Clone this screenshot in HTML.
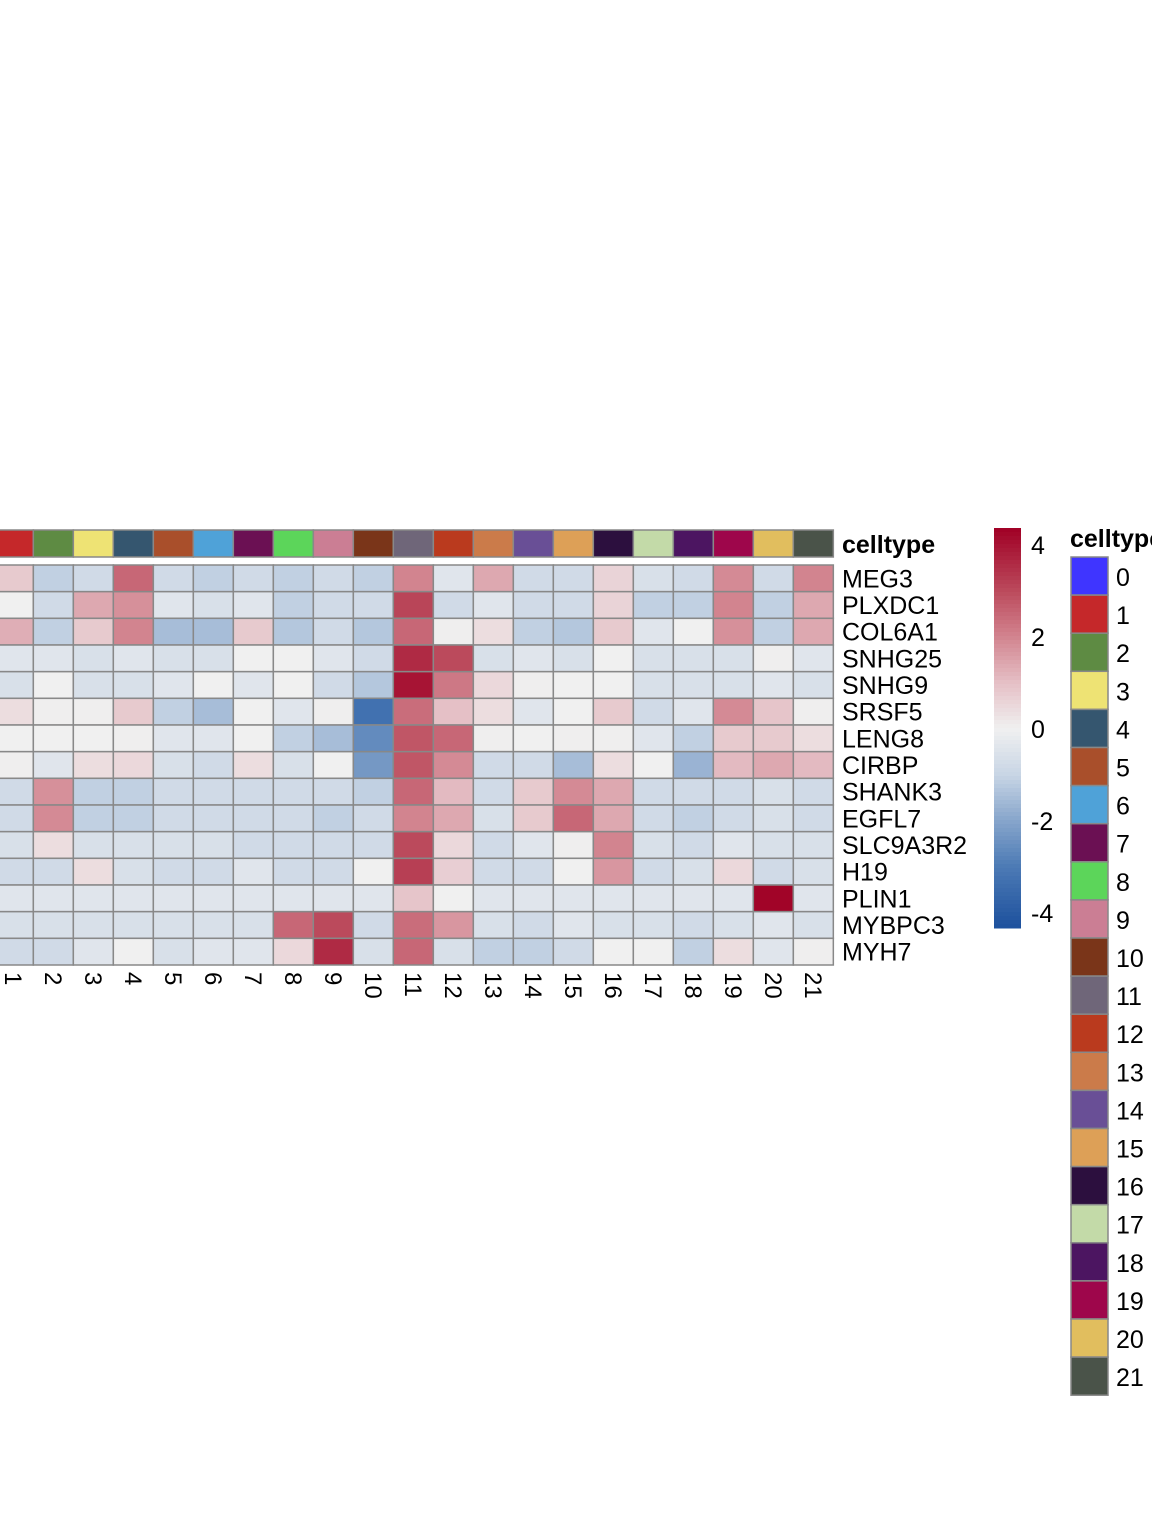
<!DOCTYPE html>
<html><head><meta charset="utf-8"><style>
html,body{margin:0;padding:0;background:#fff;width:1152px;height:1536px;overflow:hidden}
text{font-family:"Liberation Sans",Arial,sans-serif;fill:#000}
</style></head><body>
<svg id="chart" width="1152" height="1536" xmlns="http://www.w3.org/2000/svg"></svg>
<script>
const genes=["MEG3","PLXDC1","COL6A1","SNHG25","SNHG9","SRSF5","LENG8","CIRBP","SHANK3","EGFL7","SLC9A3R2","H19","PLIN1","MYBPC3","MYH7"];
const columns=["0","1","2","3","4","5","6","7","8","9","10","11","12","13","14","15","16","17","18","19","20","21"];
const celltypeColors=["#3F35FF","#C5282A","#5E8B43","#EEE374","#35566F","#A94F2B","#4FA2D8","#6B1053","#5CD55A","#CB7E94","#7A3519","#6F6679","#BA3A1E","#CB7B4A","#694F96","#DDA057","#2C0F3E","#C3DAA8","#4C1561","#9E064B","#E1BE5E","#4A5349"];
const colorTicks=[4,2,0,-2,-4];
const rowMEG3=[0,0.8,-1.1,-0.8,2.5,-0.8,-1.1,-0.8,-1.1,-0.8,-1.1,2.0,-0.4,1.4,-0.8,-0.8,0.6,-0.6,-0.8,1.9,-0.8,2.0];
const rowPLXDC1=[0,0,-0.8,1.4,1.8,-0.4,-0.6,-0.4,-1.1,-0.8,-0.8,3.1,-0.8,-0.4,-0.8,-0.8,0.6,-1.1,-1.1,2.0,-1.1,1.4];
const rowCOL6A1=[0,1.3,-1.1,0.8,2.0,-1.5,-1.5,0.8,-1.3,-0.8,-1.3,2.5,0.05,0.4,-1.1,-1.3,0.8,-0.4,0,1.8,-1.1,1.4];
const rowSNHG25=[0,-0.4,-0.4,-0.6,-0.4,-0.6,-0.6,0,0,-0.4,-0.8,3.6,3.0,-0.6,-0.4,-0.6,0,-0.6,-0.6,-0.6,0.05,-0.4];
const rowSNHG9=[0,-0.6,0,-0.6,-0.6,-0.4,0,-0.4,0,-0.8,-1.3,4.0,2.2,0.5,0.05,0,0,-0.6,-0.6,-0.6,-0.4,-0.6];
const rowSRSF5=[0,0.4,0.05,0.05,0.8,-1.1,-1.5,0,-0.4,0.05,-3.3,2.4,1.0,0.4,-0.4,0,0.8,-0.8,-0.4,1.9,0.9,0.05];
const rowLENG8=[0,0,0,0,0.05,-0.4,-0.4,0,-1.1,-1.5,-2.6,2.8,2.5,0.05,0,0.05,0.05,-0.4,-1.1,0.8,0.8,0.4];
const rowCIRBP=[0,0.05,-0.4,0.4,0.5,-0.6,-0.8,0.4,-0.6,0,-2.3,2.8,1.9,-0.8,-0.8,-1.5,0.4,0,-1.7,1.1,1.4,1.1];
const rowSHANK3=[0,-0.8,1.8,-1.1,-1.1,-0.8,-0.8,-0.8,-0.8,-0.8,-1.1,2.5,1.1,-0.8,0.8,1.9,1.4,-0.8,-0.8,-0.8,-0.6,-0.8];
const rowEGFL7=[0,-0.8,1.9,-1.1,-1.1,-0.8,-0.8,-0.8,-0.8,-1.1,-0.8,2.0,1.4,-0.6,0.8,2.5,1.4,-0.8,-1.1,-0.8,-0.6,-0.8];
const rowSLC9A3R2=[0,-0.6,0.4,-0.6,-0.6,-0.6,-0.6,-0.8,-0.8,-0.8,-0.8,3.0,0.5,-0.8,-0.4,0.05,2.0,-0.6,-0.8,-0.4,-0.6,-0.6];
const rowH19=[0,-0.8,-0.8,0.4,-0.6,-0.8,-0.8,-0.4,-0.8,-0.8,0,3.2,0.7,-0.8,-0.8,0,1.7,-0.8,-0.6,0.5,-0.8,-0.6];
const rowPLIN1=[0,-0.4,-0.4,-0.4,-0.4,-0.4,-0.4,-0.4,-0.4,-0.4,-0.4,0.9,0,-0.4,-0.4,-0.4,-0.4,-0.4,-0.4,-0.4,4.3,-0.4];
const rowMYBPC3=[0,-0.6,-0.6,-0.6,-0.6,-0.6,-0.6,-0.6,2.5,3.0,-0.8,2.4,1.7,-0.6,-0.8,-0.4,-0.6,-0.6,-0.8,-0.6,-0.4,-0.6];
const rowMYH7=[0,-0.8,-0.8,-0.4,0,-0.6,-0.4,-0.4,0.5,3.6,-0.6,2.5,-0.6,-1.1,-1.1,-0.8,0,0,-1.1,0.4,-0.4,0.05];
const values=[rowMEG3,rowPLXDC1,rowCOL6A1,rowSNHG25,rowSNHG9,rowSRSF5,rowLENG8,rowCIRBP,rowSHANK3,rowEGFL7,rowSLC9A3R2,rowH19,rowPLIN1,rowMYBPC3,rowMYH7];

const NS="http://www.w3.org/2000/svg";
const svg=document.getElementById('chart');
function mk(t,a){const e=document.createElementNS(NS,t);for(const k in a)e.setAttribute(k,a[k]);svg.appendChild(e);return e;}
const stops=[[-4.37,[27,79,156]],[-3,[76,122,181]],[-2,[134,165,203]],[-1,[200,213,229]],[0,[240,240,240]],[1,[229,192,198]],[2,[210,132,143]],[3,[187,74,92]],[4.37,[160,0,37]]];
function color(v){v=Math.max(-4.37,Math.min(4.37,v));for(let i=0;i<stops.length-1;i++){const [a,ca]=stops[i],[b,cb]=stops[i+1];if(v<=b){const t=(v-a)/(b-a);return 'rgb('+ca.map((c,j)=>Math.round(c+(cb[j]-c)*t)).join(',')+')';}}return 'rgb(160,0,37)';}
const cellW=40,cellH=400/15,x0=33.33-2*cellW,y0=565;
const xPos=i=>x0+i*cellW, yPos=r=>y0+r*cellH;
columns.forEach((c,i)=>{
  const r=mk('rect',{x:xPos(i),y:530,width:cellW,height:27,fill:celltypeColors[i],stroke:'#888',"stroke-width":1.5});
  
  
});
const at=mk('text',{x:842,y:553,"font-size":25,"font-weight":"bold"});at.textContent='celltype';


values.forEach((row,r)=>{
  row.forEach((v,i)=>{
    const c=mk('rect',{x:xPos(i),y:yPos(r),width:cellW,height:cellH,fill:color(v),stroke:'#888',"stroke-width":1.5});
    
    
  });
  const t=mk('text',{x:842,y:yPos(r)+cellH/2+9,"font-size":25});t.textContent=genes[r];
  
  
});
columns.forEach((c,i)=>{
  const cx=xPos(i)+cellW/2;
  const t=mk('text',{x:0,y:0,"font-size":24,transform:'translate('+(cx-8.5)+',972) rotate(90)'});t.textContent=c;
  
  
});
const cbTop=528,cbBot=927,zeroY=729,unit=46;
for(let y=cbTop;y<cbBot;y+=4){
  const v=(zeroY-(y+2))/unit;
  const r=mk('rect',{x:994,y:y,width:27,height:4.5,fill:color(v)});
  
  
}
colorTicks.forEach(v=>{
  const t=mk('text',{x:1031,y:zeroY-v*unit+9,"font-size":25});t.textContent=String(v);
  
  
});
const lt=mk('text',{x:1070,y:547,"font-size":25,"font-weight":"bold"});lt.textContent='celltype';


columns.forEach((c,i)=>{
  const y=557+i*38.1;
  const r=mk('rect',{x:1071,y:y,width:37,height:38.1,fill:celltypeColors[i],stroke:'#888',"stroke-width":1.5});
  
  
  const t=mk('text',{x:1116,y:y+29,"font-size":25});t.textContent=c;
  
  
});
</script>
</body></html>
